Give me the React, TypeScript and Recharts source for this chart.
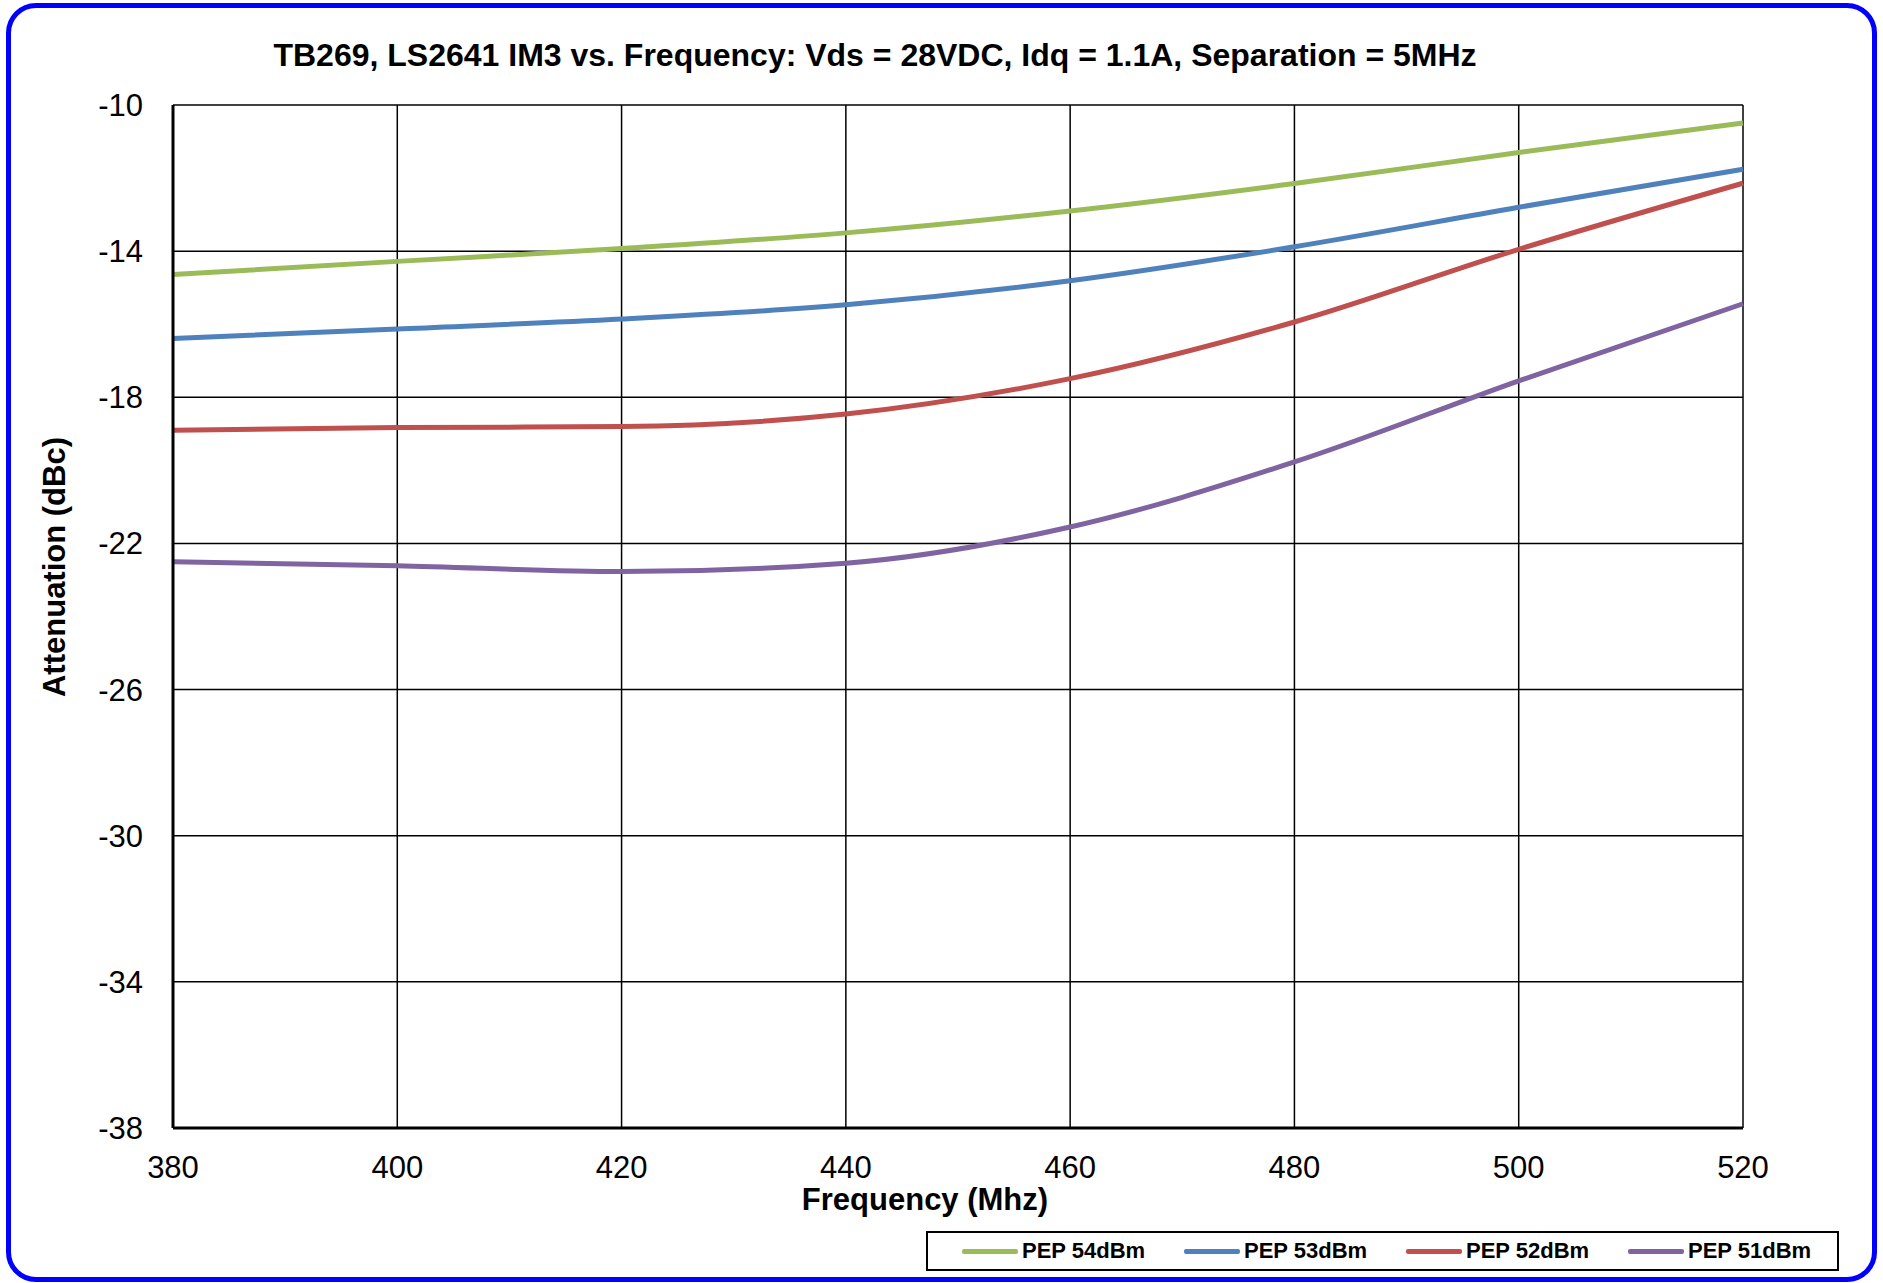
import { CartesianGrid, Line, LineChart, XAxis, YAxis } from 'recharts'

// frequency in MHz
const freqs = [380, 400, 420, 440, 460, 480, 500, 520]
// IM3 attenuation (dBc) per PEP level
const pep54 = [-14.64, -14.28, -13.93, -13.5, -12.9, -12.15, -11.3, -10.49]
const pep53 = [-16.39, -16.13, -15.86, -15.47, -14.81, -13.88, -12.8, -11.76]
const pep52 = [-18.9, -18.83, -18.8, -18.46, -17.49, -15.94, -13.95, -12.14]
const pep51 = [-22.5, -22.61, -22.77, -22.54, -21.55, -19.77, -17.55, -15.44]

const xTicks = [380, 400, 420, 440, 460, 480, 500, 520]
const yTicks = [-38, -34, -30, -26, -22, -18, -14, -10]

const series = [
  { key: 'pep54', name: 'PEP 54dBm', color: '#9BBB59', values: pep54 },
  { key: 'pep53', name: 'PEP 53dBm', color: '#4F81BD', values: pep53 },
  { key: 'pep52', name: 'PEP 52dBm', color: '#C0504D', values: pep52 },
  { key: 'pep51', name: 'PEP 51dBm', color: '#8064A2', values: pep51 },
]

const data = freqs.map((f, i) => {
  const row: Record<string, number> = { freq: f }
  series.forEach((s) => { row[s.key] = s.values[i] })
  return row
})

const font = 'Arial, "Liberation Sans", sans-serif'

export default function App() {
  return (
    <div style={{ position: 'absolute', left: 0, top: 0, width: 1883, height: 1283, background: '#fff', fontFamily: font, overflow: 'hidden' }}>
      <div style={{
        position: 'absolute', left: 6, top: 3, width: 1871, height: 1279,
        border: '5px solid #0000FF', borderRadius: 30, boxSizing: 'border-box',
      }} />

      <div style={{ position: 'absolute', left: 0, width: 1750, top: 37, textAlign: 'center', fontSize: 32, fontWeight: 'bold', color: '#000' }}>
        TB269, LS2641 IM3 vs. Frequency: Vds = 28VDC, Idq = 1.1A, Separation = 5MHz
      </div>

      <div style={{ position: 'absolute', left: 0, top: 0 }}>
        <LineChart width={1883} height={1283} data={data} margin={{ top: 105, right: 140, bottom: 115, left: 113 }}>
          <CartesianGrid stroke="#000" strokeWidth={1.5} vertical horizontal />
          <XAxis
            dataKey="freq"
            type="number"
            domain={[380, 520]}
            ticks={xTicks}
            height={40}
            tickSize={0}
            tickMargin={28}
            tickLine={false}
            axisLine={{ stroke: '#000', strokeWidth: 3 }}
            tick={{ fill: '#000', fontSize: 31, fontFamily: font }}
          />
          <YAxis
            type="number"
            domain={[-38, -10]}
            ticks={yTicks}
            width={60}
            tickSize={0}
            tickMargin={30}
            tickLine={false}
            axisLine={{ stroke: '#000', strokeWidth: 3 }}
            tick={{ fill: '#000', fontSize: 31, fontFamily: font }}
          />
          {series.map((s) => (
            <Line
              key={s.key}
              type="monotone"
              dataKey={s.key}
              name={s.name}
              stroke={s.color}
              strokeWidth={5}
              dot={false}
              isAnimationActive={false}
            />
          ))}
        </LineChart>
      </div>

      <div style={{ position: 'absolute', left: 0, width: 1850, top: 1182, textAlign: 'center', fontSize: 31, fontWeight: 'bold', color: '#000' }}>
        Frequency (Mhz)
      </div>

      <div style={{
        position: 'absolute', left: 55, top: 567, transform: 'translate(-50%, -50%) rotate(-90deg)',
        whiteSpace: 'nowrap', fontSize: 31, fontWeight: 'bold', color: '#000',
      }}>
        Attenuation (dBc)
      </div>

      <div style={{
        position: 'absolute', left: 926, top: 1231, width: 913, height: 40,
        border: '2px solid #000', boxSizing: 'border-box', background: '#fff',
      }}>
        {series.map((s, i) => (
          <div key={s.key} style={{ position: 'absolute', left: 34 + i * 222, top: 0, height: 36, display: 'flex', alignItems: 'center' }}>
            <div style={{ width: 56, height: 5, background: s.color, borderRadius: 2, marginRight: 4 }} />
            <span style={{ fontSize: 22, fontWeight: 'bold', color: '#000' }}>{s.name}</span>
          </div>
        ))}
      </div>
    </div>
  )
}
